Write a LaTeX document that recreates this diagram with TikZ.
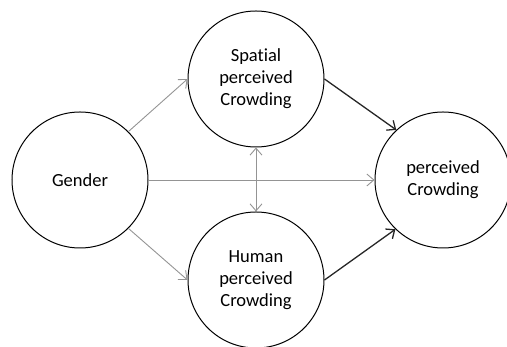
\documentclass[tikz,border=0pt]{standalone}
\usepackage{fontspec}
\setmainfont{Carlito}[Ligatures=NoCommon]
\usetikzlibrary{arrows.meta}

\tikzset{
    facteur/.style={draw, circle, line width=1pt, minimum size=136pt, inner sep=0pt,
        align=center, font=\fontsize{18.5}{22}\selectfont},
    lien/.style={draw=black!42, line width=0.9pt, -{Straight Barb[length=7pt,width=12pt]}},
    effet/.style={draw=black!85, line width=1.3pt, -{Straight Barb[length=7pt,width=12pt]}}
}

\begin{document}
\begin{tikzpicture}[x=1pt,y=1pt]

\useasboundingbox (0,0) rectangle (507,347);

% Variables
\node[facteur] (gender) at (80,167) {Gender};
\node[facteur] (spatial) at (256,268) {Spatial\\perceived\\Crowding};
\node[facteur] (human) at (256,67) {Human\\perceived\\Crowding};
\node[facteur] (crowding) at (443,167) {perceived\\Crowding};

% Liens
\draw[lien] (gender.45) -- (spatial.west);
\draw[lien] (gender.-45) -- (human.west);
\draw[lien] (gender.east) -- (crowding.west);
\draw[lien, {Straight Barb[length=7pt,width=12pt]}-{Straight Barb[length=7pt,width=12pt]}] (spatial.south) -- (human.north);

\draw[effet] (spatial.east) -- (crowding.133);
\draw[effet] (human.east) -- (crowding.226);

\end{tikzpicture}
\end{document}
